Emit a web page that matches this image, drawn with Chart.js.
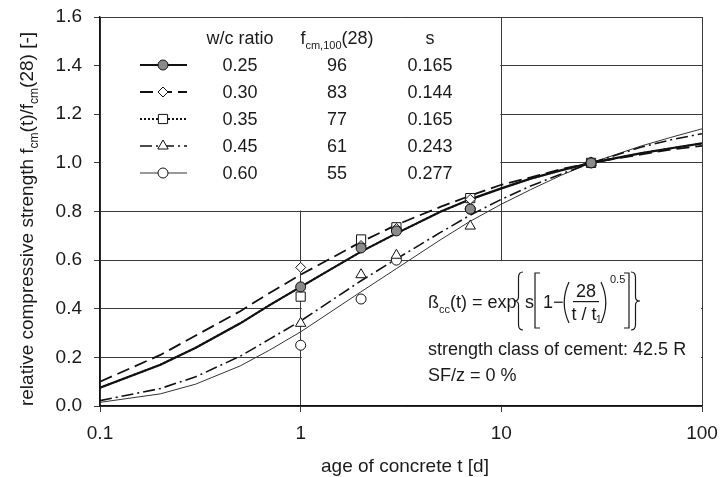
<!DOCTYPE html>
<html>
<head>
<meta charset="utf-8">
<script src="https://cdn.jsdelivr.net/npm/chart.js@4.4.1/dist/chart.umd.min.js"></script>
<style>
  html, body { margin: 0; padding: 0; background: #fff; }
  #wrap { width: 720px; height: 477px; }
</style>
</head>
<body>
<div id="wrap"><canvas id="chart"></canvas></div>
<script>
// age of concrete t [d] used for the model curves
const ages = [0.1, 0.2, 0.3, 0.5, 0.7, 1, 2, 3, 5, 7, 10, 14, 20, 28, 50, 70, 100];

// model curves fcm(t)/fcm(28), one per w/c ratio
const curve025 = [0.075, 0.17, 0.24, 0.34, 0.415, 0.49, 0.635, 0.71, 0.80, 0.85, 0.895, 0.935, 0.97, 1.00, 1.04, 1.06, 1.08];
const curve030 = [0.10, 0.21, 0.29, 0.39, 0.465, 0.54, 0.675, 0.745, 0.82, 0.865, 0.91, 0.94, 0.975, 1.00, 1.035, 1.055, 1.07];
const curve035 = [0.075, 0.17, 0.24, 0.34, 0.415, 0.49, 0.635, 0.71, 0.80, 0.85, 0.895, 0.935, 0.97, 1.00, 1.04, 1.06, 1.08];
const curve045 = [0.022, 0.072, 0.12, 0.205, 0.275, 0.35, 0.515, 0.605, 0.715, 0.785, 0.85, 0.905, 0.955, 1.00, 1.065, 1.095, 1.12];
const curve060 = [0.015, 0.05, 0.09, 0.165, 0.23, 0.305, 0.47, 0.565, 0.685, 0.76, 0.83, 0.89, 0.95, 1.00, 1.07, 1.105, 1.14];

// measured values (markers)
const testAges = [1, 2, 3, 7, 28];
const test025 = [0.49, 0.65, 0.72, 0.81, 1.00];
const test030 = [0.57, 0.66, 0.73, 0.85, 1.00];
const test035 = [0.45, 0.685, 0.735, 0.855, 1.00];
const test045 = [0.34, 0.54, 0.62, 0.74, 1.00];
const test060 = [0.25, 0.44, 0.60, 0.81, 1.00];

// legend table
const wcRatios = ['0.25', '0.30', '0.35', '0.45', '0.60'];
const fcm100 = ['96', '83', '77', '61', '55'];
const sValues = ['0.165', '0.144', '0.165', '0.243', '0.277'];

// axes
const xTicks = [0.1, 1, 10, 100];
const yTicks = [0, 0.2, 0.4, 0.6, 0.8, 1.0, 1.2, 1.4, 1.6];

const FONT = '"Liberation Sans", Arial, sans-serif';
const INK = '#1a1a1a';

const curves = [curve025, curve030, curve035, curve045, curve060];
const tests = [test025, test030, test035, test045, test060];

// line / marker style per w/c ratio
const estilos = [
    { dash: [],              width: 2.2, color: '#111', point: 'circle',   radius: 5,   fill: '#8a8a8a' },
    { dash: [13, 6],         width: 1.8, color: '#111', point: 'rectRot',  radius: 5,   fill: '#fff' },
    { dash: [2, 2],          width: 1.8, color: '#111', point: 'rect',     radius: 6.5, fill: '#fff' },
    { dash: [12, 4, 2, 4],   width: 1.6, color: '#111', point: 'triangle', radius: 6,   fill: '#fff' },
    { dash: [],              width: 1,   color: '#333', point: 'circle',   radius: 5,   fill: '#fff' }
];

const datasets = [];
// markers first so they stay on top
tests.forEach((serie, i) => {
    const e = estilos[i];
    datasets.push({
        label: 'w/c ' + wcRatios[i] + ' measured',
        data: testAges.map((t, k) => ({ x: t, y: serie[k] })),
        showLine: false,
        pointStyle: e.point,
        pointRadius: e.radius,
        pointBackgroundColor: e.fill,
        pointBorderColor: '#111',
        pointBorderWidth: 1,
        order: i
    });
});
curves.forEach((serie, i) => {
    const e = estilos[i];
    datasets.push({
        label: 'w/c ' + wcRatios[i],
        data: ages.map((t, k) => ({ x: t, y: serie[k] })),
        showLine: true,
        borderColor: e.color,
        borderWidth: e.width,
        borderDash: e.dash,
        pointRadius: 0,
        tension: 0,
        fill: false,
        order: 10 + i
    });
});

// text with subscripts: runs = [{t, sub}]
function drawRich(ctx, runs, x, y, size, align) {
    const subSize = Math.round(size * 0.62);
    let total = 0;
    runs.forEach(r => {
        ctx.font = (r.sub ? subSize : size) + 'px ' + FONT;
        r.w = ctx.measureText(r.t).width;
        total += r.w;
    });
    let cx = align === 'center' ? x - total / 2 : x;
    ctx.textAlign = 'left';
    ctx.textBaseline = 'alphabetic';
    runs.forEach(r => {
        ctx.font = (r.sub ? subSize : size) + 'px ' + FONT;
        ctx.fillText(r.t, cx, y + (r.sub ? size * 0.28 : 0));
        cx += r.w;
    });
}

// thin bracket drawn as a path inside a box; closing ones are mirrored
function drawBracket(ctx, kind, x0, y0, x1, y1, closing) {
    ctx.save();
    if (closing) {
        ctx.translate(x0 + x1, 0);
        ctx.scale(-1, 1);
    }
    const h = y1 - y0, xm = (x0 + x1) / 2, m = (y0 + y1) / 2;
    ctx.beginPath();
    if (kind === '{') {
        ctx.moveTo(x1, y0);
        ctx.quadraticCurveTo(xm, y0, xm, y0 + h * 0.1);
        ctx.lineTo(xm, m - h * 0.07);
        ctx.quadraticCurveTo(xm, m, x0, m);
        ctx.quadraticCurveTo(xm, m, xm, m + h * 0.07);
        ctx.lineTo(xm, y1 - h * 0.1);
        ctx.quadraticCurveTo(xm, y1, x1, y1);
    } else if (kind === '[') {
        ctx.moveTo(x1, y0);
        ctx.lineTo(x0, y0);
        ctx.lineTo(x0, y1);
        ctx.lineTo(x1, y1);
    } else {
        ctx.moveTo(x1, y0);
        ctx.quadraticCurveTo(x0 - (x1 - x0) * 0.6, m, x1, y1);
    }
    ctx.strokeStyle = INK;
    ctx.lineWidth = 1.2;
    ctx.stroke();
    ctx.restore();
}

const decoracion = {
    id: 'decoracion',
    beforeDatasetsDraw(chart) {
        const { ctx } = chart;
        const x = chart.scales.x, y = chart.scales.y;
        ctx.save();
        ctx.fillStyle = '#fff';
        // legend box hides the grid in the upper left
        ctx.fillRect(x.getPixelForValue(0.1) + 1, y.getPixelForValue(1.6) + 1,
            x.getPixelForValue(10) - x.getPixelForValue(0.1) - 2,
            y.getPixelForValue(0.8) - y.getPixelForValue(1.6) - 2);
        // formula box hides the grid in the lower right
        ctx.fillRect(x.getPixelForValue(1) + 1, y.getPixelForValue(0.6) + 1,
            x.getPixelForValue(100) - x.getPixelForValue(1) - 2,
            y.getPixelForValue(0) - y.getPixelForValue(0.6) - 2);
        ctx.restore();
    },
    afterDraw(chart) {
        const { ctx } = chart;
        ctx.save();
        ctx.fillStyle = INK;

        // axis titles
        drawRich(ctx, [{ t: 'age of concrete t [d]' }], 405, 472, 19, 'center');
        ctx.save();
        ctx.translate(33, 219);
        ctx.rotate(-Math.PI / 2);
        drawRich(ctx, [
            { t: 'relative compressive strength f' }, { t: 'cm', sub: true },
            { t: '(t)/f' }, { t: 'cm', sub: true }, { t: '(28) [-]' }
        ], 0, 0, 19, 'center');
        ctx.restore();

        // legend table
        const colWc = 240, colF = 337, colS = 430;
        const yHead = 44, rowH = 27, yRow0 = 71;
        drawRich(ctx, [{ t: 'w/c ratio' }], colWc, yHead, 18, 'center');
        drawRich(ctx, [{ t: 'f' }, { t: 'cm,100', sub: true }, { t: '(28)' }], colF, yHead, 18, 'center');
        drawRich(ctx, [{ t: 's' }], colS, yHead, 18, 'center');
        for (let i = 0; i < 5; i++) {
            const yy = yRow0 + i * rowH;
            ctx.fillStyle = INK;
            drawRich(ctx, [{ t: wcRatios[i] }], colWc, yy, 18, 'center');
            drawRich(ctx, [{ t: fcm100[i] }], colF, yy, 18, 'center');
            drawRich(ctx, [{ t: sValues[i] }], colS, yy, 18, 'center');
            // sample line + marker
            const e = estilos[i];
            const ly = yy - 6;
            ctx.save();
            ctx.strokeStyle = e.color;
            ctx.lineWidth = e.width;
            ctx.setLineDash(e.dash);
            ctx.beginPath();
            ctx.moveTo(140, ly);
            ctx.lineTo(187, ly);
            ctx.stroke();
            ctx.setLineDash([]);
            ctx.fillStyle = e.fill;
            ctx.strokeStyle = '#111';
            ctx.lineWidth = 1;
            Chart.helpers.drawPoint(ctx, { pointStyle: e.point, radius: e.radius, rotation: 0, borderWidth: 1 }, 163, ly);
            ctx.restore();
        }

        // formula box
        ctx.fillStyle = INK;
        const base = 308;
        ctx.textBaseline = 'alphabetic';
        ctx.textAlign = 'left';
        ctx.font = '18px ' + FONT;
        ctx.fillText('ß', 428, base);
        const wB = ctx.measureText('ß').width;
        ctx.font = '11px ' + FONT;
        ctx.fillText('cc', 428 + wB, base + 5);
        const wC = ctx.measureText('cc').width;
        ctx.font = '18px ' + FONT;
        ctx.fillText('(t) = exp', 428 + wB + wC, base);
        drawBracket(ctx, '{', 514, 272, 523, 330, false);
        ctx.fillText('s', 525, base);
        drawBracket(ctx, '[', 535, 273, 540, 328, false);
        ctx.fillText('1\u2212', 543, base);
        drawBracket(ctx, '(', 563, 282, 569, 323, false);
        ctx.textAlign = 'center';
        ctx.fillText('28', 586, 297);
        ctx.fillRect(573, 301, 26, 1.2);
        ctx.fillText('t / t', 584, 320);
        ctx.textAlign = 'left';
        ctx.font = '10px ' + FONT;
        ctx.fillText('1', 596, 323);
        drawBracket(ctx, '(', 601, 282, 607, 323, true);
        ctx.font = '11px ' + FONT;
        ctx.fillText('0.5', 610, 283);
        drawBracket(ctx, '[', 624, 273, 629, 328, true);
        drawBracket(ctx, '{', 631, 272, 640, 330, true);

        ctx.font = '18px ' + FONT;
        ctx.fillText('strength class of cement: 42.5 R', 428, 355);
        ctx.fillText('SF/z = 0 %', 428, 381);
        ctx.restore();
    }
};

Chart.defaults.font.family = FONT;
Chart.defaults.color = INK;

new Chart(document.getElementById('chart'), {
    type: 'scatter',
    data: { datasets: datasets },
    plugins: [decoracion],
    options: {
        responsive: true,
        maintainAspectRatio: false,
        animation: false,
        layout: { padding: { top: 17, right: 18, left: 0, bottom: 0 } },
        plugins: {
            legend: { display: false },
            tooltip: { enabled: false }
        },
        scales: {
            x: {
                type: 'logarithmic',
                min: 0.1,
                max: 100,
                afterBuildTicks: s => { s.ticks = xTicks.map(v => ({ value: v })); },
                afterFit: s => { s.height = 71; s.paddingLeft = 0; s.paddingRight = 0; },
                ticks: {
                    autoSkip: false,
                    maxRotation: 0,
                    padding: 10,
                    font: { size: 19 },
                    color: INK,
                    callback: v => String(v)
                },
                grid: { color: '#3a3a3a', lineWidth: 1, tickLength: 6 },
                border: { color: '#111', width: 1.3 }
            },
            y: {
                min: 0,
                max: 1.6,
                afterBuildTicks: s => { s.ticks = yTicks.map(v => ({ value: v })); },
                afterFit: s => { s.width = 100; s.paddingTop = 0; s.paddingBottom = 0; },
                ticks: {
                    padding: 12,
                    font: { size: 19 },
                    color: INK,
                    callback: v => Number(v).toFixed(1)
                },
                grid: { color: '#3a3a3a', lineWidth: 1, tickLength: 6 },
                border: { color: '#111', width: 1.3 }
            }
        }
    }
});
</script>
</body>
</html>
